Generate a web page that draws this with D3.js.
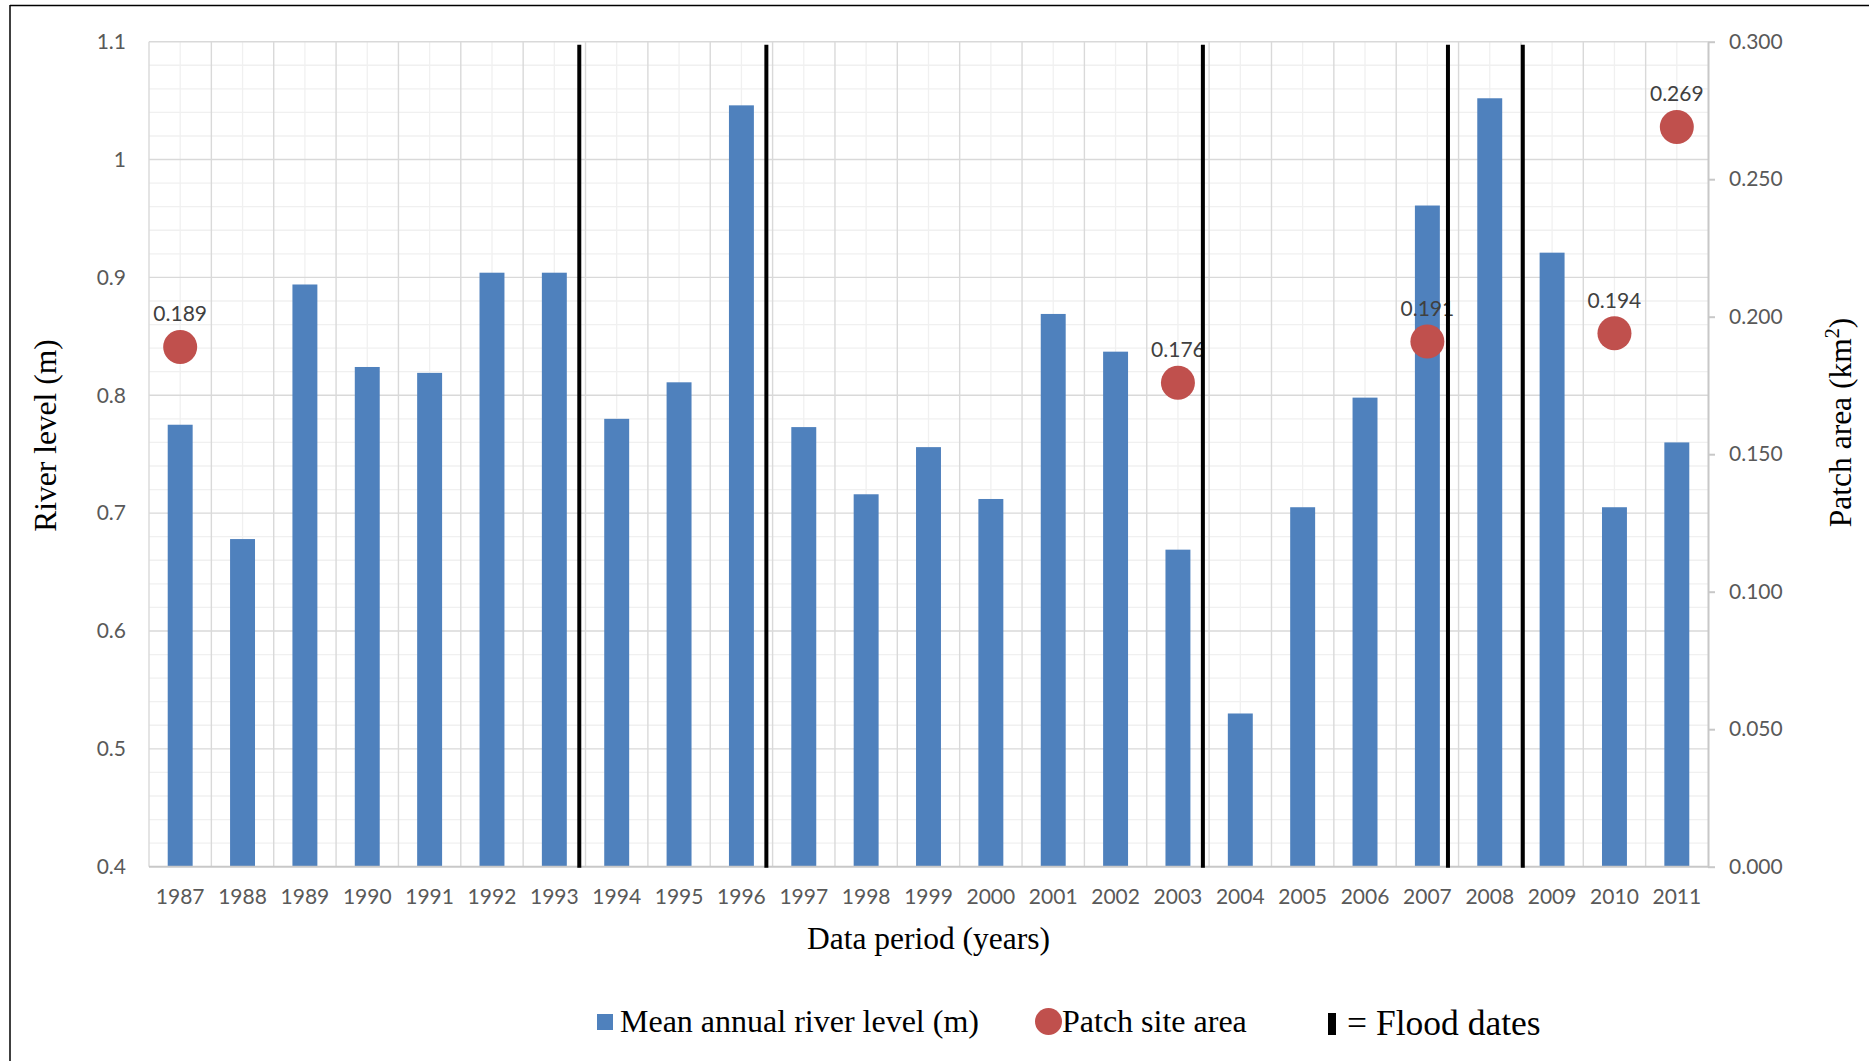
<!DOCTYPE html>
<html>
<head>
<meta charset="utf-8">
<script src="https://cdn.jsdelivr.net/npm/d3@7"></script>
<style>
  html, body { margin: 0; padding: 0; background: #fff; }
  svg { display: block; }
</style>
</head>
<body>
<svg id="chart" width="1869" height="1061"></svg>
<script>
// Years on the category axis
const years = [1987, 1988, 1989, 1990, 1991, 1992, 1993, 1994, 1995, 1996, 1997, 1998, 1999,
               2000, 2001, 2002, 2003, 2004, 2005, 2006, 2007, 2008, 2009, 2010, 2011];
// Mean annual river level (m)
const riverLevel = [0.775, 0.678, 0.894, 0.824, 0.819, 0.904, 0.904, 0.780, 0.811, 1.046,
                    0.773, 0.716, 0.756, 0.712, 0.869, 0.837, 0.669, 0.530, 0.705, 0.798,
                    0.961, 1.052, 0.921, 0.705, 0.760];
// Patch site area (km²), only for surveyed years
const patchYears = [1987, 2003, 2007, 2010, 2011];
const patchArea = [0.189, 0.176, 0.191, 0.194, 0.269];
// Flood events as decimal years
const floodDates = [1993.4, 1996.4, 2003.4, 2007.33, 2008.53];
// Axis ticks
const leftTicks = [0.4, 0.5, 0.6, 0.7, 0.8, 0.9, 1.0, 1.1];
const rightTicks = [0, 0.05, 0.10, 0.15, 0.20, 0.25, 0.30];

const svg = d3.select("#chart");
const L = 149, R = 1708, T = 41.7, B = 866.7;
const tickFont = "Lato, 'Open Sans', sans-serif";
const serif = "'Liberation Serif', 'Times New Roman', serif";

const x = d3.scaleBand().domain(years).range([L, R]).paddingInner(0).paddingOuter(0);
const yL = d3.scaleLinear().domain([0.4, 1.1]).range([B, T]);
const yR = d3.scaleLinear().domain([0, 0.3]).range([B, T]);
const bw = x.bandwidth();
const xYear = d3.scaleLinear()
  .domain([years[0], years[years.length - 1]])
  .range([x(years[0]) + bw / 2, x(years[years.length - 1]) + bw / 2]);

// Outer frame
svg.append("line").attr("x1", 10).attr("x2", 1869).attr("y1", 5.5).attr("y2", 5.5)
  .attr("stroke", "#000").attr("stroke-width", 1.5);
svg.append("line").attr("x1", 10).attr("x2", 10).attr("y1", 5).attr("y2", 1061)
  .attr("stroke", "#000").attr("stroke-width", 1.5);

const grid = svg.append("g");
// Minor horizontal gridlines every 0.02
const minorH = d3.range(0.42, 1.1, 0.02).filter(v => Math.abs(v * 10 - Math.round(v * 10)) > 1e-6);
grid.selectAll(".mh").data(minorH).enter().append("line")
  .attr("x1", L).attr("x2", R).attr("y1", d => yL(d)).attr("y2", d => yL(d))
  .attr("stroke", "#f0f0f0").attr("stroke-width", 1.3);
// Minor vertical gridlines at category centres
grid.selectAll(".mv").data(years).enter().append("line")
  .attr("x1", d => x(d) + bw / 2).attr("x2", d => x(d) + bw / 2).attr("y1", T).attr("y2", B)
  .attr("stroke", "#f0f0f0").attr("stroke-width", 1.3);
// Major horizontal gridlines
grid.selectAll(".Mh").data(leftTicks.slice(1)).enter().append("line")
  .attr("x1", L).attr("x2", R).attr("y1", d => yL(d)).attr("y2", d => yL(d))
  .attr("stroke", "#d9d9d9").attr("stroke-width", 1.4);
// Major vertical gridlines at category boundaries
grid.selectAll(".Mv").data(years).enter().append("line")
  .attr("x1", d => x(d)).attr("x2", d => x(d)).attr("y1", T).attr("y2", B)
  .attr("stroke", "#d9d9d9").attr("stroke-width", 1.4);

// Bars
svg.append("g").selectAll("rect").data(years).enter().append("rect")
  .attr("x", d => x(d) + bw * 0.3)
  .attr("width", bw * 0.4)
  .attr("y", (d, i) => yL(riverLevel[i]))
  .attr("height", (d, i) => B - yL(riverLevel[i]))
  .attr("fill", "#4f81bd");

// Bottom axis line
svg.append("line").attr("x1", L).attr("x2", R + 1).attr("y1", B).attr("y2", B)
  .attr("stroke", "#c8c8c8").attr("stroke-width", 2);

// Left axis labels
const leftAxis = svg.append("g").attr("transform", `translate(${L},0)`)
  .call(d3.axisLeft(yL).tickValues(leftTicks).tickSize(0).tickPadding(23)
    .tickFormat(d => d3.format("")(+d.toFixed(1))));
leftAxis.select(".domain").remove();
leftAxis.selectAll("text").attr("font-family", tickFont).attr("font-size", 21).attr("fill", "#595959");

// Right axis
const rightAxis = svg.append("g").attr("transform", `translate(${R},0)`)
  .call(d3.axisRight(yR).tickValues(rightTicks).tickSize(7).tickSizeOuter(0).tickPadding(14)
    .tickFormat(d3.format(".3f")));
rightAxis.select(".domain").attr("stroke", "#c8c8c8").attr("stroke-width", 2);
rightAxis.selectAll(".tick line").attr("stroke", "#c8c8c8").attr("stroke-width", 2);
rightAxis.selectAll("text").attr("font-family", tickFont).attr("font-size", 21).attr("fill", "#595959");

// Bottom axis labels
const bottomAxis = svg.append("g").attr("transform", `translate(0,${B})`)
  .call(d3.axisBottom(x).tickSize(0).tickPadding(22));
bottomAxis.select(".domain").remove();
bottomAxis.selectAll("text").attr("font-family", tickFont).attr("font-size", 21).attr("fill", "#595959");

// Patch site points and value labels
const pts = svg.append("g");
pts.selectAll("circle").data(patchYears).enter().append("circle")
  .attr("cx", d => x(d) + bw / 2)
  .attr("cy", (d, i) => yR(patchArea[i]))
  .attr("r", 17)
  .attr("fill", "#c0504d");
pts.selectAll("text").data(patchYears).enter().append("text")
  .attr("x", d => x(d) + bw / 2)
  .attr("y", (d, i) => yR(patchArea[i]) - 25.5)
  .attr("text-anchor", "middle")
  .attr("font-family", tickFont).attr("font-size", 21).attr("fill", "#404040")
  .text((d, i) => d3.format(".3f")(patchArea[i]));

// Flood date markers
svg.append("g").selectAll("line").data(floodDates).enter().append("line")
  .attr("x1", d => xYear(d)).attr("x2", d => xYear(d))
  .attr("y1", T + 3).attr("y2", B + 1)
  .attr("stroke", "#000").attr("stroke-width", 4);

// Axis titles
svg.append("text").attr("x", 928.5).attr("y", 949).attr("text-anchor", "middle")
  .attr("font-family", serif).attr("font-size", 31.5).attr("fill", "#000")
  .text("Data period (years)");
svg.append("text").attr("transform", "translate(56,435.5) rotate(-90)").attr("text-anchor", "middle")
  .attr("font-family", serif).attr("font-size", 31.5).attr("fill", "#000")
  .text("River level (m)");
const rt = svg.append("text").attr("transform", "translate(1851,422.5) rotate(-90)").attr("text-anchor", "middle")
  .attr("font-family", serif).attr("font-size", 31.5).attr("fill", "#000");
rt.append("tspan").text("Patch area (km");
rt.append("tspan").attr("font-size", 20).attr("dy", -12).text("2");
rt.append("tspan").attr("dy", 12).text(")");

// Legend
const lg = svg.append("g");
lg.append("rect").attr("x", 597).attr("y", 1014).attr("width", 16).attr("height", 16).attr("fill", "#4f81bd");
lg.append("text").attr("x", 620).attr("y", 1031.5).attr("font-family", serif).attr("font-size", 32)
  .text("Mean annual river level (m)");
lg.append("circle").attr("cx", 1048.5).attr("cy", 1021.5).attr("r", 13.5).attr("fill", "#c0504d");
lg.append("text").attr("x", 1062).attr("y", 1031.5).attr("font-family", serif).attr("font-size", 32)
  .text("Patch site area");
lg.append("rect").attr("x", 1328).attr("y", 1013).attr("width", 8).attr("height", 22).attr("fill", "#000");
lg.append("text").attr("x", 1347).attr("y", 1035).attr("font-family", serif).attr("font-size", 35.5)
  .text("= Flood dates");
</script>
</body>
</html>
